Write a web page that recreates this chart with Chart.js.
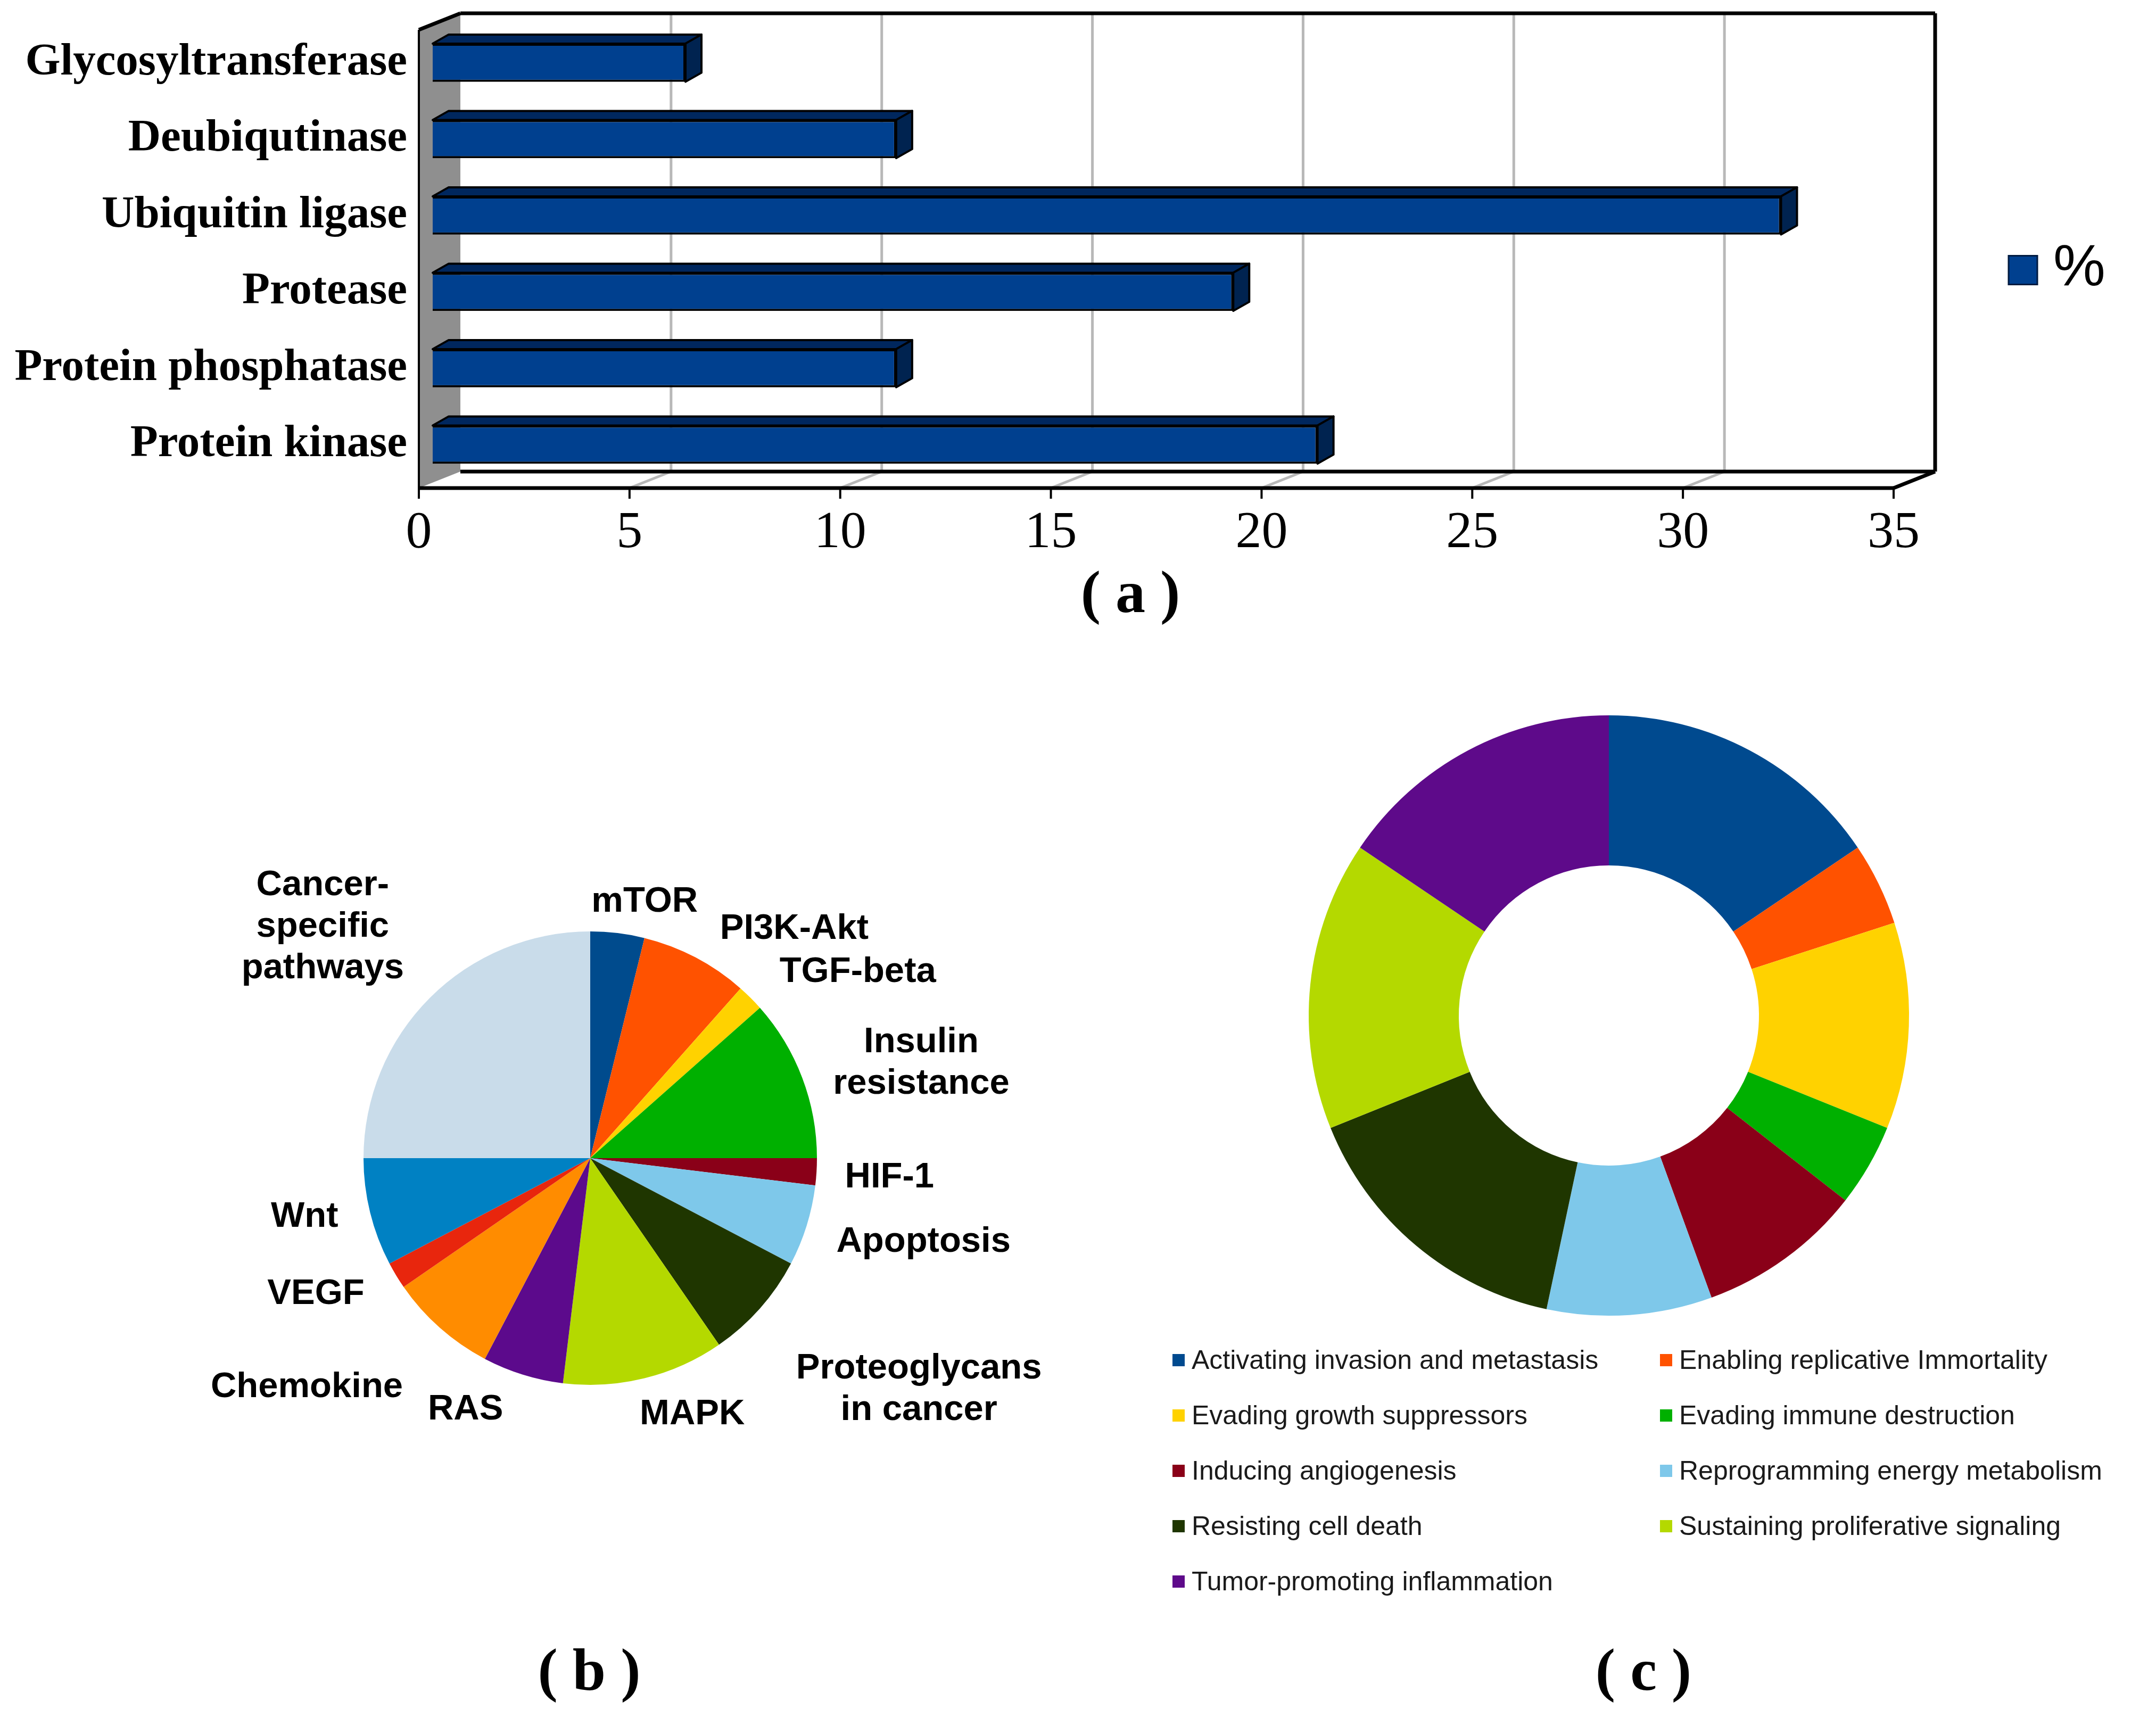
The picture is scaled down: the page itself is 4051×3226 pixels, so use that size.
<!DOCTYPE html>
<html>
<head>
<meta charset="utf-8">
<script src="https://cdn.jsdelivr.net/npm/chart.js@4.4.1/dist/chart.umd.min.js"></script>
<style>
    html, body { margin: 0; padding: 0; background: #fff; }
    body { position: relative; width: 4051px; height: 3226px; overflow: hidden; }
    canvas, .cap, #legendC { position: absolute; }
    #chartA { left: 0; top: 0; }
    #chartB { left: 300px; top: 1550px; }
    #chartC { left: 2400px; top: 1300px; }
    .cap {
        font-family: "Liberation Serif", serif; font-weight: bold; font-size: 112px;
        line-height: 1; white-space: pre; transform: translate(-50%, -50%);
    }
    #legendC { left: 2203px; top: 2503px; display: grid; grid-template-columns: 916px auto; }
    #legendC .item { display: flex; align-items: center; height: 104px; }
    #legendC .swatch { width: 23px; height: 23px; margin-right: 13px; }
    #legendC span { font-family: "Liberation Sans", Arial, sans-serif; font-size: 50px; color: #1a1a1a; }
</style>
</head>
<body>
<canvas id="chartA" width="4051" height="1060"></canvas>
<canvas id="chartB" width="1700" height="1300"></canvas>
<canvas id="chartC" width="1300" height="1250"></canvas>
<div class="cap" style="left:2124px; top:1112px;">( a )</div>
<div class="cap" style="left:1107px; top:3137px;">( b )</div>
<div class="cap" style="left:3088px; top:3137px;">( c )</div>
<div id="legendC"></div>

<script>
// (a) enzyme classes, percent
const enzymeClasses = ['Glycosyltransferase', 'Deubiqutinase', 'Ubiquitin ligase', 'Protease', 'Protein phosphatase', 'Protein kinase'];
const enzymePercent = [6, 11, 32, 19, 11, 21];
const percentTicks = [0, 35, 5]; // min, max, step

// (b) pathways, counted clockwise from 12 o'clock
const pathwayNames = ['mTOR', 'PI3K-Akt', 'TGF-beta', 'Insulin\nresistance', 'HIF-1', 'Apoptosis',
    'Proteoglycans\nin cancer', 'MAPK', 'RAS', 'Chemokine', 'VEGF', 'Wnt', 'Cancer-\nspecific\npathways'];
const pathwayCounts = [2, 4, 1, 6, 1, 3, 4, 6, 3, 4, 1, 4, 13];
const pathwayColors = ['#004b8d', '#ff5200', '#ffd200', '#00b000', '#8a0018', '#7ec8ea',
    '#1f3600', '#b4d900', '#5c0a8c', '#ff8c00', '#e8260d', '#0081c3', '#c9dcea'];

// (c) hallmarks
const hallmarkNames = ['Activating invasion and metastasis', 'Enabling replicative Immortality',
    'Evading growth suppressors', 'Evading immune destruction', 'Inducing angiogenesis',
    'Reprogramming energy metabolism', 'Resisting cell death', 'Sustaining proliferative signaling',
    'Tumor-promoting inflammation'];
const hallmarkCounts = [7, 2, 5, 2, 4, 4, 7, 7, 7];
const hallmarkColors = ['#004a8f', '#ff5200', '#ffd200', '#00b000', '#8a0018', '#7ec8ea',
    '#1f3600', '#b4d900', '#5e0a8a'];

Chart.defaults.animation = false;
Chart.defaults.responsive = false;
Chart.defaults.devicePixelRatio = 1;
Chart.defaults.plugins.tooltip.enabled = false;

// fake 3D: front plane / back wall offsets from the bar plane, and bar depth
const FX = -26, FY = 10, BX = 52, BY = -21, DX = 30, DY = -17;

function poly(ctx, pts, fill, stroke, lw) {
    ctx.beginPath();
    ctx.moveTo(pts[0][0], pts[0][1]);
    for (let i = 1; i < pts.length; i++) ctx.lineTo(pts[i][0], pts[i][1]);
    ctx.closePath();
    if (fill) { ctx.fillStyle = fill; ctx.fill(); }
    if (stroke) { ctx.strokeStyle = stroke; ctx.lineWidth = lw; ctx.stroke(); }
}

function line(ctx, x1, y1, x2, y2) {
    ctx.beginPath();
    ctx.moveTo(x1, y1);
    ctx.lineTo(x2, y2);
    ctx.stroke();
}

const frame3d = {
    id: 'frame3d',
    beforeDatasetsDraw(chart) {
        const { ctx, chartArea: a } = chart;
        const x = chart.scales.x;
        const x0 = x.getPixelForValue(x.min), x1 = x.getPixelForValue(x.max);
        ctx.save();
        // side wall
        poly(ctx, [[x0 + FX, a.top + FY], [x0 + BX, a.top + BY], [x0 + BX, a.bottom + BY], [x0 + FX, a.bottom + FY]],
            '#8f8f8f', null, 0);
        // grid on back wall + floor
        ctx.strokeStyle = '#b8b8b8';
        ctx.lineWidth = 5;
        x.ticks.forEach(t => {
            const px = x.getPixelForValue(t.value);
            if (t.value > x.min && t.value < x.max) {
                line(ctx, px + BX, a.top + BY, px + BX, a.bottom + BY);
                line(ctx, px + FX, a.bottom + FY, px + BX, a.bottom + BY);
            }
        });
        ctx.strokeStyle = '#000';
        ctx.lineWidth = 7;
        line(ctx, x0 + BX, a.top + BY, x1 + BX, a.top + BY);
        line(ctx, x1 + BX, a.top + BY, x1 + BX, a.bottom + BY);
        line(ctx, x0 + BX, a.bottom + BY, x1 + BX, a.bottom + BY);
        line(ctx, x0 + FX, a.bottom + FY, x1 + FX, a.bottom + FY);
        line(ctx, x1 + FX, a.bottom + FY, x1 + BX, a.bottom + BY);
        line(ctx, x0 + FX, a.top + FY, x0 + BX, a.top + BY);
        ctx.lineWidth = 4;
        line(ctx, x0 + FX, a.top + FY, x0 + FX, a.bottom + FY);
        x.ticks.forEach(t => {
            const px = x.getPixelForValue(t.value) + FX;
            line(ctx, px, a.bottom + FY, px, a.bottom + FY + 20);
        });
        ctx.restore();
    },
    afterDatasetsDraw(chart) {
        const ctx = chart.ctx;
        ctx.save();
        ctx.lineJoin = 'round';
        chart.getDatasetMeta(0).data.forEach(bar => {
            const { x, y, base, height } = bar.getProps(['x', 'y', 'base', 'height'], true);
            const top = y - height / 2, bot = y + height / 2;
            poly(ctx, [[base, top], [base + DX, top + DY], [x + DX, top + DY], [x, top]], '#00275e', '#000', 4);
            poly(ctx, [[x, top], [x + DX, top + DY], [x + DX, bot + DY], [x, bot]], '#002350', '#000', 4);
        });
        ctx.restore();
    },
    afterDraw(chart) {
        // legend "%"
        const { ctx, chartArea: a } = chart;
        const ds = chart.data.datasets[0];
        const lx = a.right + 190, ly = (a.top + a.bottom) / 2 + 31;
        ctx.save();
        ctx.fillStyle = ds.backgroundColor;
        ctx.fillRect(lx, ly - 27, 54, 54);
        ctx.strokeStyle = '#001a40';
        ctx.lineWidth = 3;
        ctx.strokeRect(lx, ly - 27, 54, 54);
        ctx.fillStyle = '#000';
        ctx.font = '110px "Liberation Sans", Arial, sans-serif';
        ctx.textBaseline = 'middle';
        ctx.fillText(ds.label, lx + 84, ly - 2);
        ctx.restore();
    }
};

new Chart(document.getElementById('chartA'), {
    type: 'bar',
    data: {
        labels: enzymeClasses,
        datasets: [{
            label: '%',
            data: enzymePercent,
            backgroundColor: '#00408f',
            borderColor: '#000',
            borderWidth: 4,
            barPercentage: 0.5,
            categoryPercentage: 1
        }]
    },
    options: {
        indexAxis: 'y',
        layout: { padding: { left: 0, top: 46, right: 467, bottom: 23 } },
        plugins: { legend: { display: false } },
        scales: {
            x: {
                min: percentTicks[0],
                max: percentTicks[1],
                grid: { display: false, drawTicks: false },
                border: { display: false },
                afterFit: s => { s.height = 130; s.paddingLeft = 0; s.paddingRight = 0; },
                ticks: {
                    stepSize: percentTicks[2],
                    labelOffset: FX,
                    padding: 36,
                    color: '#000',
                    maxRotation: 0,
                    font: { family: '"Liberation Serif", serif', size: 98 }
                }
            },
            y: {
                grid: { display: false, drawTicks: false },
                border: { display: false },
                afterFit: s => { s.width = 813; s.paddingTop = 0; s.paddingBottom = 0; },
                ticks: {
                    padding: 48,
                    color: '#000',
                    font: { family: '"Liberation Serif", serif', size: 85, weight: 'bold' }
                }
            }
        }
    },
    plugins: [frame3d]
});

// label spots for (b), in pie radii from the centre
const pieLabelSpots = [[0.24, -1.13], [0.90, -1.01], [1.18, -0.82], [1.46, -0.42], [1.32, 0.085], [1.47, 0.37],
    [1.45, 1.02], [0.45, 1.13], [-0.55, 1.11], [-1.25, 1.01], [-1.21, 0.60], [-1.26, 0.26], [-1.18, -1.02]];

const pieLabels = {
    id: 'pieLabels',
    afterDraw(chart) {
        const ctx = chart.ctx;
        const arc = chart.getDatasetMeta(0).data[0];
        const r = arc.outerRadius;
        ctx.save();
        ctx.fillStyle = '#000';
        ctx.font = 'bold 67px "Liberation Sans", Arial, sans-serif';
        ctx.textAlign = 'center';
        ctx.textBaseline = 'middle';
        chart.data.labels.forEach((name, i) => {
            const lines = name.split('\n');
            const cx = arc.x + pieLabelSpots[i][0] * r;
            const cy = arc.y + pieLabelSpots[i][1] * r;
            lines.forEach((ln, j) => {
                ctx.fillText(ln, cx, cy + (j - (lines.length - 1) / 2) * 78);
            });
        });
        ctx.restore();
    }
};

new Chart(document.getElementById('chartB'), {
    type: 'pie',
    data: {
        labels: pathwayNames,
        datasets: [{ data: pathwayCounts, backgroundColor: pathwayColors, borderWidth: 0 }]
    },
    options: {
        layout: { padding: { left: 383, top: 200, right: 465, bottom: 248 } },
        plugins: { legend: { display: false } }
    },
    plugins: [pieLabels]
});

const chartC = new Chart(document.getElementById('chartC'), {
    type: 'doughnut',
    data: {
        labels: hallmarkNames,
        datasets: [{ data: hallmarkCounts, backgroundColor: hallmarkColors, borderWidth: 0 }]
    },
    options: {
        cutout: '50%',
        layout: { padding: { left: 59, top: 44, right: 113, bottom: 78 } },
        plugins: { legend: { display: false } }
    }
});

// html legend for (c), two columns
const legendBox = document.getElementById('legendC');
chartC.data.labels.forEach((name, i) => {
    const item = document.createElement('div');
    item.className = 'item';
    const sw = document.createElement('div');
    sw.className = 'swatch';
    sw.style.background = chartC.data.datasets[0].backgroundColor[i];
    const txt = document.createElement('span');
    txt.textContent = name;
    item.appendChild(sw);
    item.appendChild(txt);
    legendBox.appendChild(item);
});
</script>
</body>
</html>
